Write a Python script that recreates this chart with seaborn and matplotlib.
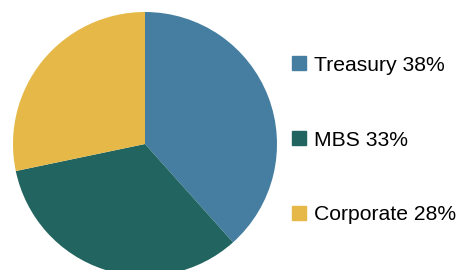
import matplotlib
matplotlib.use("Agg")
import matplotlib.pyplot as plt
import matplotlib.patches as mpatches
import seaborn as sns

# data
sectors = ["Treasury", "MBS", "Corporate"]
shares = [38, 33, 28]
colors = ["#467EA1", "#226460", "#E5B847"]

sns.set_theme(style="white")
plt.rcParams['font.family'] = ['Liberation Sans', 'DejaVu Sans']

fig = plt.figure(figsize=(4.58, 2.7), dpi=100)
ax = fig.add_axes([13 / 458, -6 / 270, 264 / 458, 264 / 270])
wedges, _ = ax.pie(shares, colors=colors, startangle=90, counterclock=False,
                   wedgeprops=dict(linewidth=0))
for w in wedges:
    w.set_clip_on(False)
ax.set_xlim(-1, 1)
ax.set_ylim(-1, 1)
ax.set_aspect("equal")
ax.axis("off")

labels = [f"{s} {v}%" for s, v in zip(sectors, shares)]
handles = [mpatches.Patch(color=c) for c in colors]
leg = fig.legend(handles, labels, loc="center left", bbox_to_anchor=(292 / 458, 130 / 270),
                 frameon=False, fontsize=15.2, handlelength=0.66, handleheight=0.66,
                 handletextpad=0.38, labelspacing=2.65, borderpad=0, borderaxespad=0)
for t in leg.get_texts():
    t.set_color("black")

fig.savefig("out.png", dpi=100)
